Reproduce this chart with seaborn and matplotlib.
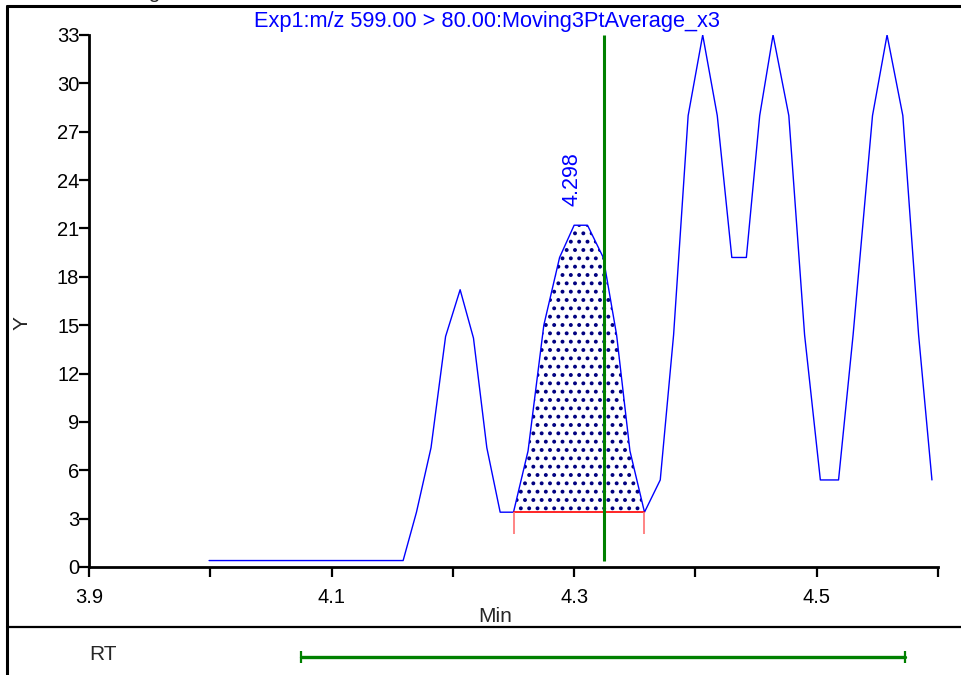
import numpy as np
import pandas as pd
import matplotlib
matplotlib.use("Agg")
import matplotlib.pyplot as plt
from matplotlib.lines import Line2D
import seaborn as sns

# chromatogram trace
rt_min = [3.999, 4.159, 4.170, 4.182, 4.194, 4.206, 4.217, 4.228, 4.239, 4.250,
          4.262, 4.275, 4.288, 4.300, 4.311, 4.324, 4.335, 4.346, 4.358, 4.371,
          4.382, 4.394, 4.406, 4.418, 4.430, 4.442, 4.453, 4.464, 4.477, 4.490,
          4.503, 4.518, 4.530, 4.546, 4.558, 4.571, 4.584, 4.595]
intensity = [0.4, 0.4, 3.4, 7.4, 14.3, 17.2, 14.2, 7.4, 3.4, 3.4,
             7.2, 15.0, 19.2, 21.2, 21.2, 19.2, 14.4, 7.2, 3.4, 5.4,
             14.4, 28.0, 33.0, 28.0, 19.2, 19.2, 28.0, 33.0, 28.0, 14.4,
             5.4, 5.4, 14.4, 28.0, 33.0, 28.0, 14.4, 5.4]

# integrated peak
peak_start = 4.250
peak_end = 4.358
peak_baseline = 3.4
peak_label = "4.298"
peak_label_y = 22.4
marker_rt = 4.3246
rt_window = [4.075, 4.573]

x_ticks = [3.9, 4.0, 4.1, 4.2, 4.3, 4.4, 4.5, 4.6]
x_tick_labels = ["3.9", "", "4.1", "", "4.3", "", "4.5", ""]
y_ticks = [0, 3, 6, 9, 12, 15, 18, 21, 24, 27, 30, 33]

title = "Exp1:m/z 599.00 > 80.00:Moving3PtAverage_x3"

sns.set_theme(style="ticks")
plt.rcParams['font.family'] = ['Liberation Sans', 'DejaVu Sans']
plt.rcParams['hatch.linewidth'] = 1.6

df = pd.DataFrame({"rt": rt_min, "y": intensity})

W, H = 961, 675
fig = plt.figure(figsize=(W / 100, H / 100), dpi=100)
ax = fig.add_axes([89 / W, 1 - 567 / H, 849 / W, 532 / H])

# hatched peak area
pk = df[(df.rt >= peak_start) & (df.rt <= peak_end)]
ax.fill_between(pk.rt, pk.y, peak_baseline, facecolor="white",
                edgecolor="#000080", hatch="..", linewidth=0, zorder=1)

sns.lineplot(data=df, x="rt", y="y", color="blue", linewidth=1.0, ax=ax, zorder=3)

# baseline with end drops
ax.plot([peak_start, peak_end], [peak_baseline, peak_baseline], color="red", lw=1.2, zorder=4)
ax.vlines([peak_start, peak_end], peak_baseline - 1.35, peak_baseline,
          color="#ff7070", lw=1.2, zorder=4)

ax.vlines(marker_rt, 0.35, 33, color="green", lw=2.2, zorder=5)

ax.text(float(peak_label), peak_label_y, peak_label,
        rotation=90, ha="center", va="bottom", color="blue", fontsize=15.5)

ax.set_xlim(3.9, 4.6)
ax.set_ylim(0, 33)
ax.set_xticks(x_ticks)
ax.set_xticklabels(x_tick_labels)
ax.set_yticks(y_ticks)
ax.set_xlabel("")
ax.set_ylabel("")
ax.tick_params(axis="both", direction="out", length=7, width=1.6, colors="black",
               labelsize=14.5, pad=1)
ax.tick_params(axis="x", pad=8)
ax.tick_params(axis="y", pad=0)
for s in ["top", "right"]:
    ax.spines[s].set_visible(False)
for s in ["left", "bottom"]:
    ax.spines[s].set_linewidth(2)
    ax.spines[s].set_color("black")
ax.patch.set_alpha(0)

fig.text(487 / W, 1 - 22 / H, title, color="blue", fontsize=15.7, ha="center", va="center")
fig.text(22 / W, 1 - 323 / H, "Y", rotation=90, fontsize=15, ha="center", va="center")
fig.text(495 / W, 1 - 617 / H, "Min", fontsize=15, ha="center", va="center")
fig.text(160 / W, 1 + 2 / H, "Smoothing", fontsize=15, ha="right", va="baseline")

# frame and divider
fig.add_artist(Line2D([7 / W, 7 / W], [0, 1 - 6 / H], transform=fig.transFigure, color="black", lw=2.2))
fig.add_artist(Line2D([7 / W, 1], [1 - 6 / H, 1 - 6 / H], transform=fig.transFigure, color="black", lw=2.2))
fig.add_artist(Line2D([7 / W, 1], [1 - 627 / H, 1 - 627 / H], transform=fig.transFigure, color="black", lw=1.6))

# RT window panel
ax2 = fig.add_axes([89 / W, 1 - 677 / H, 849 / W, 40 / H])
ax2.set_xlim(3.9, 4.6)
ax2.set_ylim(-1, 1)
ax2.axis("off")
ax2.plot(rt_window, [0, 0], color="green", lw=2.4)
ax2.vlines(rt_window, -0.3, 0.3, color="green", lw=1.6)
fig.text(103 / W, 1 - 655 / H, "RT", fontsize=15, ha="center", va="center")

fig.savefig("out.png", dpi=100)
